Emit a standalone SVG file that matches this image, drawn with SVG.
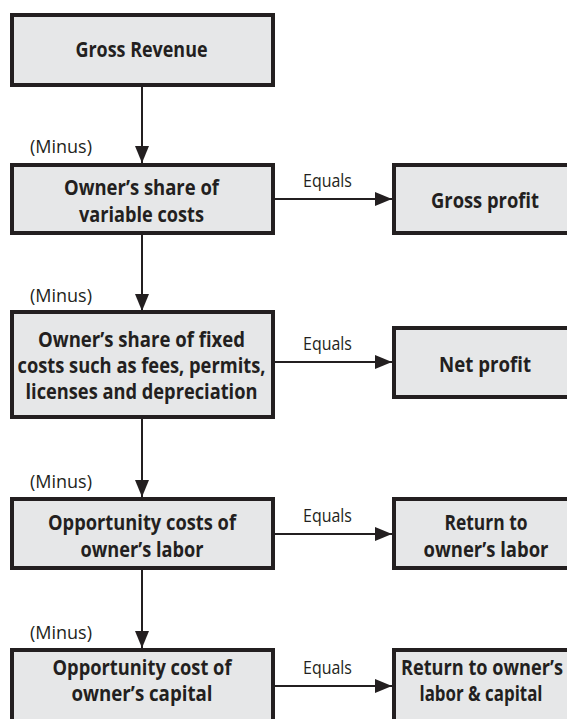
<svg xmlns="http://www.w3.org/2000/svg" width="567" height="719" viewBox="0 0 567 719">
<defs>
<style>
.box{fill:#e6e7e8;stroke:#231f20;stroke-width:4}
.b{font-family:"Open Sans","Noto Sans","Liberation Sans",sans-serif;font-weight:700;font-size:21px;fill:#231f20;text-anchor:middle}
.r{font-family:"Open Sans","Noto Sans","Liberation Sans",sans-serif;font-weight:400;font-size:18px;fill:#231f20}
.c{stroke:#231f20;stroke-width:2;fill:none;marker-end:url(#ah)}
</style>
<marker id="ah" markerUnits="userSpaceOnUse" markerWidth="17" markerHeight="14" refX="17" refY="7" orient="auto">
<path d="M0,0 L17,7 L0,14 z" fill="#231f20"/>
</marker>
</defs>
<rect width="567" height="719" fill="#ffffff"/>

<g id="connectors">
<line class="c" x1="142" y1="87" x2="142" y2="163"/>
<line class="c" x1="142" y1="235" x2="142" y2="311"/>
<line class="c" x1="142" y1="419" x2="142" y2="497"/>
<line class="c" x1="142" y1="570" x2="142" y2="648"/>
<line class="c" x1="275" y1="199" x2="392" y2="199"/>
<line class="c" x1="275" y1="362" x2="392" y2="362"/>
<line class="c" x1="275" y1="534" x2="392" y2="534"/>
<line class="c" x1="275" y1="686" x2="392" y2="686"/>
<text class="r" x="30" y="153" textLength="62" lengthAdjust="spacingAndGlyphs">(Minus)</text>
<text class="r" x="30" y="302" textLength="62" lengthAdjust="spacingAndGlyphs">(Minus)</text>
<text class="r" x="30" y="488" textLength="62" lengthAdjust="spacingAndGlyphs">(Minus)</text>
<text class="r" x="30" y="639" textLength="62" lengthAdjust="spacingAndGlyphs">(Minus)</text>
<text class="r" x="303" y="187" textLength="49" lengthAdjust="spacingAndGlyphs">Equals</text>
<text class="r" x="303" y="350" textLength="49" lengthAdjust="spacingAndGlyphs">Equals</text>
<text class="r" x="303" y="522" textLength="49" lengthAdjust="spacingAndGlyphs">Equals</text>
<text class="r" x="303" y="674" textLength="49" lengthAdjust="spacingAndGlyphs">Equals</text>
</g>

<g id="gross-revenue">
<rect class="box" x="12" y="15" width="261" height="70"/>
<text class="b" x="141.5" y="57" textLength="132" lengthAdjust="spacingAndGlyphs">Gross Revenue</text>
</g>

<g id="variable-costs">
<rect class="box" x="12" y="165" width="261" height="68"/>
<text class="b" x="141.5" y="195" textLength="155" lengthAdjust="spacingAndGlyphs">Owner’s share of</text>
<text class="b" x="141.5" y="222" textLength="125" lengthAdjust="spacingAndGlyphs">variable costs</text>
</g>

<g id="fixed-costs">
<rect class="box" x="12" y="312" width="261" height="105"/>
<text class="b" x="141.5" y="347" textLength="207" lengthAdjust="spacingAndGlyphs">Owner’s share of fixed</text>
<text class="b" x="141.5" y="373" textLength="248" lengthAdjust="spacingAndGlyphs">costs such as fees, permits,</text>
<text class="b" x="141.5" y="399" textLength="232" lengthAdjust="spacingAndGlyphs">licenses and depreciation</text>
</g>

<g id="opp-labor">
<rect class="box" x="12" y="499" width="261" height="69"/>
<text class="b" x="142" y="530" textLength="188" lengthAdjust="spacingAndGlyphs">Opportunity costs of</text>
<text class="b" x="142" y="557" textLength="123" lengthAdjust="spacingAndGlyphs">owner’s labor</text>
</g>

<g id="opp-capital">
<rect class="box" x="12" y="650" width="261" height="90"/>
<text class="b" x="142" y="675" textLength="179" lengthAdjust="spacingAndGlyphs">Opportunity cost of</text>
<text class="b" x="142" y="701" textLength="141" lengthAdjust="spacingAndGlyphs">owner’s capital</text>
</g>

<g id="gross-profit">
<rect class="box" x="394" y="165" width="200" height="68"/>
<text class="b" x="485" y="208" textLength="108" lengthAdjust="spacingAndGlyphs">Gross profit</text>
</g>

<g id="net-profit">
<rect class="box" x="394" y="328" width="200" height="69"/>
<text class="b" x="485" y="372" textLength="92" lengthAdjust="spacingAndGlyphs">Net profit</text>
</g>

<g id="return-labor">
<rect class="box" x="394" y="499" width="200" height="69"/>
<text class="b" x="486" y="530" textLength="83" lengthAdjust="spacingAndGlyphs">Return to</text>
<text class="b" x="486" y="557" textLength="125" lengthAdjust="spacingAndGlyphs">owner’s labor</text>
</g>

<g id="return-labor-capital">
<rect class="box" x="394" y="650" width="200" height="90"/>
<text class="b" x="482" y="675" textLength="162" lengthAdjust="spacingAndGlyphs">Return to owner’s</text>
<text class="b" x="481" y="701" textLength="123" lengthAdjust="spacingAndGlyphs">labor &amp; capital</text>
</g>
</svg>
